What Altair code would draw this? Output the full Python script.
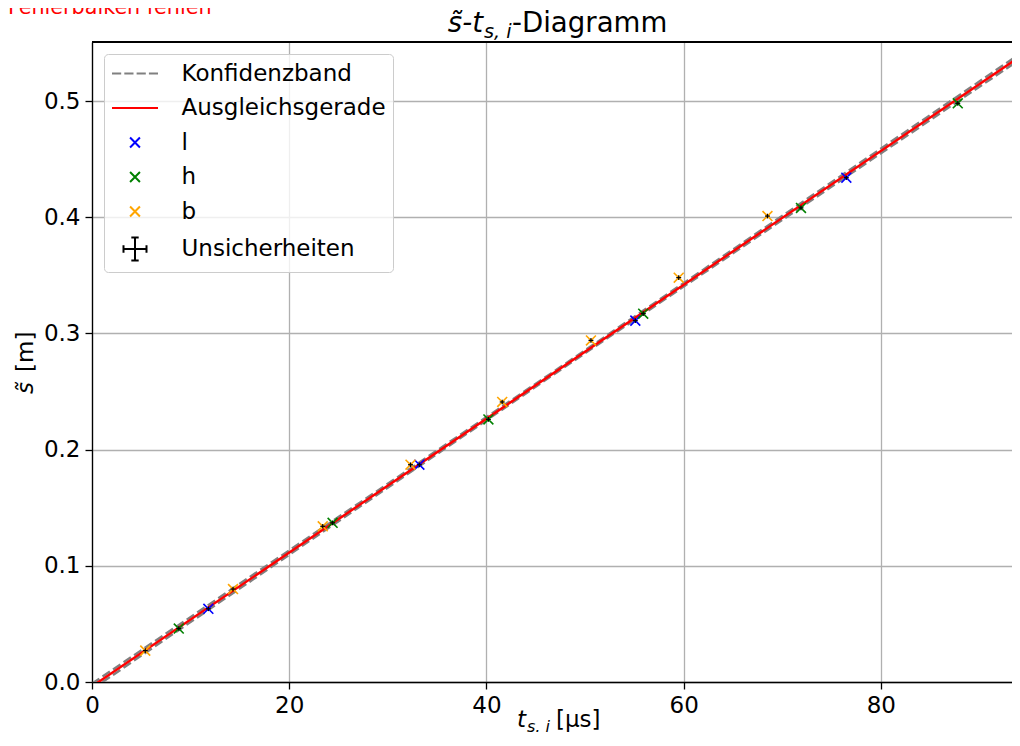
import altair as alt
import pandas as pd

# ---- data ----
l_t = [11.8, 33.2, 55.1, 76.5]
l_s = [0.063, 0.187, 0.311, 0.434]
h_t = [8.8, 24.4, 40.2, 55.9, 71.9, 87.8]
h_s = [0.046, 0.137, 0.226, 0.317, 0.408, 0.498]
b_t = [5.4, 14.3, 23.4, 32.3, 41.6, 50.6, 59.5, 68.5]
b_s = [0.027, 0.080, 0.134, 0.187, 0.241, 0.294, 0.348, 0.401]

err_t = 0.25   # µs
err_s = 0.002  # m

fit_t = [0.0, 95.0]
fit_s = [-0.0038, 0.5434]
band_t = [0.0, 47.5, 95.0]
band_lower = [-0.0062, 0.2686, 0.5410]
band_upper = [-0.0014, 0.2710, 0.5458]

x_ticks = [0, 20, 40, 60, 80]
y_ticks = [0.0, 0.1, 0.2, 0.3, 0.4, 0.5]

legend_names = ["Konfidenzband", "Ausgleichsgerade", "l", "h", "b", "Unsicherheiten"]
legend_colors = ["#808080", "#ff0000", "#0000ff", "#008000", "#ffa500", "#000000"]

X_PATH = "M-0.43,-0.43L0.43,0.43M-0.43,0.43L0.43,-0.43"
legend_shapes = [
    "M-2,0L-1.2,0M-0.93,0L-0.13,0M0.14,0L0.94,0M1.21,0L2,0",
    "M-2,0L2,0",
    X_PATH, X_PATH, X_PATH,
    "M-1,0L1,0M0,-1L0,1M-0.32,-1L0.32,-1M-0.32,1L0.32,1M-1,-0.32L-1,0.32M1,-0.32L1,0.32",
]

note_text = "Fehlerbalken fehlen"

# ---- tables ----
pts = pd.DataFrame({
    "t": l_t + h_t + b_t,
    "s": l_s + h_s + b_s,
    "series": ["l"] * len(l_t) + ["h"] * len(h_t) + ["b"] * len(b_t),
})
pts["t_lo"] = pts["t"] - err_t
pts["t_hi"] = pts["t"] + err_t
pts["s_lo"] = pts["s"] - err_s
pts["s_hi"] = pts["s"] + err_s

fit = pd.DataFrame({"t": fit_t, "s": fit_s})
band = pd.DataFrame({"t": band_t, "lo": band_lower, "hi": band_upper})

W, H = 920, 640
FONT = "DejaVu Sans"

xscale = alt.Scale(domain=[0, 93.3], nice=False, zero=False)
yscale = alt.Scale(domain=[0, 0.5508], nice=False, zero=False)

axis_common = dict(grid=True, gridColor="#b0b0b0", gridWidth=1.3, domainColor="black",
                   domainWidth=1.3, tickColor="black", tickSize=7, tickWidth=1.3,
                   labelFontSize=23, labelColor="black", labelFont=FONT, labelPadding=5,
                   labelFlush=False, title=None)
xaxis = alt.Axis(values=x_ticks, **axis_common)
yaxis = alt.Axis(values=y_ticks, format=".1f", **axis_common)

band_lo = alt.Chart(band).mark_line(color="#808080", strokeWidth=2.4, strokeDash=[8.9, 3.8], clip=True).encode(
    x=alt.X("t:Q", scale=xscale, axis=xaxis),
    y=alt.Y("lo:Q", scale=yscale, axis=yaxis),
)
band_hi = alt.Chart(band).mark_line(color="#808080", strokeWidth=2.4, strokeDash=[8.9, 3.8], clip=True).encode(
    x=alt.X("t:Q", scale=xscale),
    y=alt.Y("hi:Q", scale=yscale),
)
fit_line = alt.Chart(fit).mark_line(color="#ff0000", strokeWidth=2.4, clip=True).encode(
    x=alt.X("t:Q", scale=xscale),
    y=alt.Y("s:Q", scale=yscale),
)

legend = alt.Legend(title=None, orient="top-left", offset=12,
                    symbolSize=529, symbolStrokeWidth=2, symbolOffset=11.5,
                    labelOffset=34, labelFontSize=23, labelFont=FONT,
                    labelColor="black", rowPadding=9.5, padding=7,
                    fillColor="rgba(255,255,255,0.8)", strokeColor="#cccccc",
                    cornerRadius=4, labelLimit=400)

points = alt.Chart(pts).mark_point(filled=False, size=529, strokeWidth=1.6, opacity=1).encode(
    x=alt.X("t:Q", scale=xscale),
    y=alt.Y("s:Q", scale=yscale),
    color=alt.Color("series:N", scale=alt.Scale(domain=legend_names, range=legend_colors), legend=legend),
    shape=alt.Shape("series:N", scale=alt.Scale(domain=legend_names, range=legend_shapes), legend=legend),
)

err_x = alt.Chart(pts).mark_rule(color="black", strokeWidth=1.2).encode(
    x=alt.X("t_lo:Q", scale=xscale), x2="t_hi:Q", y=alt.Y("s:Q", scale=yscale))
err_y = alt.Chart(pts).mark_rule(color="black", strokeWidth=1.2).encode(
    x=alt.X("t:Q", scale=xscale), y=alt.Y("s_lo:Q", scale=yscale), y2="s_hi:Q")

top_spine = alt.Chart(pts).mark_rule(color="black", strokeWidth=1.3).encode(
    x=alt.value(0), x2=alt.value(W), y=alt.value(0))


def label(txt, x, y, size=23, italic=False, align="left", angle=0, color="black"):
    kw = dict(color=color, fontSize=size, font=FONT, align=align, baseline="alphabetic")
    if italic:
        kw["fontStyle"] = "italic"
    if angle:
        kw["angle"] = angle
    return alt.Chart(pd.DataFrame({"txt": [txt]})).mark_text(**kw).encode(
        text="txt:N", x=alt.value(x), y=alt.value(y))


texts = [
    # red note at the very top (cut off by the top edge)
    label(note_text, -84, -28, size=20.7, color="#ff0000"),
    # title  s̃-t_{s,i}-Diagramm
    label("s̃-t", 391, -10, size=27.6, italic=True, align="right"),
    label("s, i", 392, -4, size=19.3, italic=True),
    label("-Diagramm", 420, -10, size=27.6),
    # x axis title  t_{s,i} [µs]
    label("t", 425, 685, italic=True),
    label("s, i", 435, 690, size=16, italic=True),
    label("[µs]", 464, 685),
    # y axis title  s̃ [m]
    label("s̃", -59, 352, italic=True, angle=270),
    label("[m]", -59, 330, angle=270),
]

chart = alt.layer(band_lo, band_hi, fit_line, points, err_x, err_y, top_spine, *texts).properties(
    width=W, height=H,
    padding={"left": 84, "top": 34, "right": 0, "bottom": 50},
    autosize=alt.AutoSizeParams(type="none"),
).configure_view(strokeWidth=0).configure(font=FONT)

chart.save("out.html", embed_options={"renderer": "svg", "actions": False})
